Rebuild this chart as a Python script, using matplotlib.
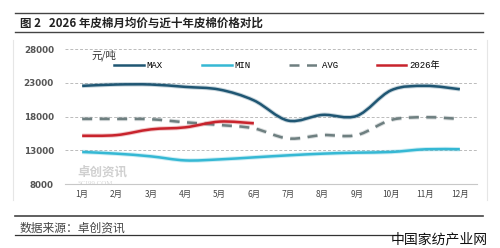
import numpy as np
import matplotlib.pyplot as plt
from matplotlib.path import Path
from matplotlib.patches import PathPatch
from matplotlib.lines import Line2D
import matplotlib.patheffects as pe

plt.rcParams['font.family'] = ['Noto Sans CJK SC', 'DejaVu Sans']

# monthly cotton prices, yuan/ton
months = ['1月', '2月', '3月', '4月', '5月', '6月', '7月', '8月', '9月', '10月', '11月', '12月']
max_vals = [22550, 22750, 22750, 22400, 22000, 20400, 17400, 18250, 18100, 21900, 22550, 22050]
min_vals = [12750, 12500, 12100, 11500, 11650, 11950, 12250, 12500, 12650, 12750, 13150, 13150]
avg_vals = [17650, 17650, 17600, 17150, 16750, 16250, 14750, 15250, 15250, 17500, 17900, 17650]
y2026 = [15150, 15250, 16100, 16400, 17250, 17000]
yticks = [8000, 13000, 18000, 23000, 28000]


def smooth_path(xs, ys):
    # excel-style smoothed line: catmull-rom turned into cubic bezier segments
    pts = np.column_stack([xs, ys]).astype(float)
    ext = np.vstack([pts[0], pts, pts[-1]])
    verts = [pts[0]]
    codes = [Path.MOVETO]
    for i in range(len(pts) - 1):
        p0, p1, p2, p3 = ext[i], ext[i + 1], ext[i + 2], ext[i + 3]
        verts += [p1 + (p2 - p0) / 6, p2 - (p3 - p1) / 6, p2]
        codes += [Path.CURVE4] * 3
    return Path(verts, codes)


fig = plt.figure(figsize=(5, 2.48), dpi=100)
ax = fig.add_axes([0.13, 0.258, 0.824, 0.544])
x = np.arange(len(months))

series = [
    (max_vals, '#1f5673', '-', 'MAX'),
    (min_vals, '#35b8d4', '-', 'MIN'),
    (avg_vals, '#6e7f80', (0, (4, 3)), 'AVG'),
    (y2026, '#c8232c', '-', '2026年'),
]
handles = []
for vals, col, ls, lab in series:
    p = PathPatch(smooth_path(x[:len(vals)], vals), facecolor='none', edgecolor=col,
                  lw=1.8, linestyle=ls, zorder=3, capstyle='butt')
    p.set_path_effects([pe.Stroke(linewidth=3.2, foreground=col, alpha=0.25), pe.Normal()])
    ax.add_patch(p)
    handles.append(Line2D([], [], color=col, lw=1.8, linestyle=ls, label=lab))

ax.set_xlim(-0.5, 11.5)
ax.set_ylim(8000, 28000)
ax.set_yticks(yticks)
ax.set_yticklabels([str(v) for v in yticks], fontsize=6.3, fontweight='bold',
                   color='#555555', family='DejaVu Sans')
ax.set_xticks(x)
ax.set_xticklabels(months, fontsize=6, color='#444444')
ax.tick_params(length=0, pad=4)
ax.tick_params(axis='y', pad=8)
ax.grid(axis='y', color='#bbbbbb', linestyle=(0, (3, 2)), lw=0.7)
for s in ['top', 'right', 'left']:
    ax.spines[s].set_visible(False)
ax.spines['bottom'].set_color('#c8c8c8')
ax.spines['bottom'].set_linewidth(0.8)

leg = ax.legend(handles=handles, loc='upper left', bbox_to_anchor=(0.1, 0.97), ncol=4,
                frameon=False, handlelength=3.3, columnspacing=4.3, handletextpad=0.3,
                prop={'family': ['Liberation Mono', 'Noto Sans CJK SC'], 'size': 6.5})
ax.text(0.065, 0.995, '元/吨', transform=ax.transAxes, fontsize=7.5, va='top', color='#333333')

# watermark
ax.text(0.03, 0.06, '卓创资讯', transform=ax.transAxes, fontsize=9, color='#d0d0d0',
        fontweight='bold', zorder=1)
ax.text(0.03, -0.005, 'SCI99.COM', transform=ax.transAxes, fontsize=5, color='#d8d8d8',
        family='Liberation Serif', zorder=1)

# title block and source
for yy, w in [(1 - 13 / 248, 1.0), (1 - 32 / 248, 1.0), (1 - 216 / 248, 1.2)]:
    fig.add_artist(Line2D([0.03, 0.966], [yy, yy], color='#444444', lw=w))
fig.add_artist(Line2D([0.03, 0.80], [1 - 235 / 248] * 2, color='#333333', lw=0.9))
fig.add_artist(Line2D([0.974, 0.974], [1 - 40 / 248, 1 - 200 / 248], color='#e6e6e6', lw=0.8))
fig.add_artist(Line2D([0.026, 0.026], [1 - 40 / 248, 1 - 200 / 248], color='#e6e6e6', lw=0.8))

fig.text(0.04, 1 - 23 / 248, '图 2   2026 年皮棉月均价与近十年皮棉价格对比', fontsize=8.3,
         fontweight='bold', va='center', color='#222222')
fig.text(0.04, 1 - 228 / 248, '数据来源：卓创资讯', fontsize=8.5, va='center', color='#444444')
fig.text(0.976, 1 - 239 / 248, '中国家纺产业网', fontsize=10, va='center', ha='right', color='#111111')

fig.savefig('out.png', dpi=100)
